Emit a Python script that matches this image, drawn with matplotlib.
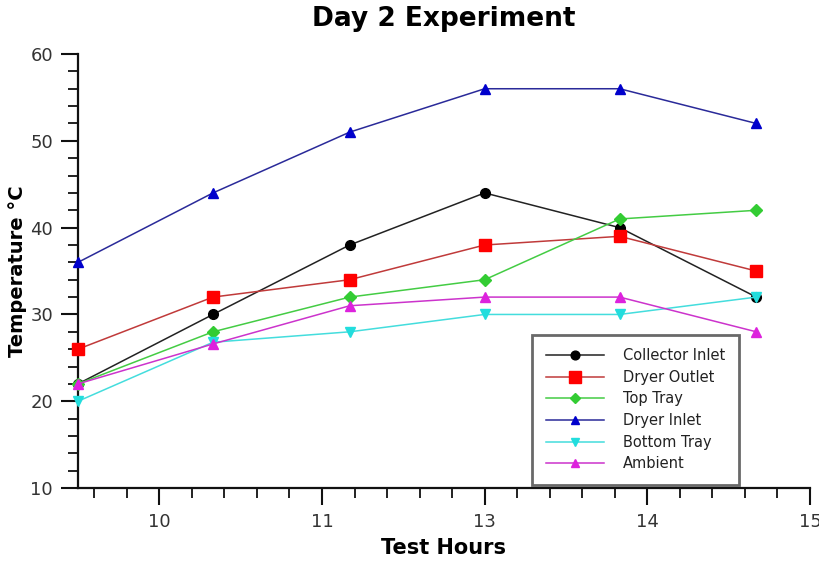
import matplotlib
matplotlib.use("Agg")
import matplotlib.pyplot as plt
from matplotlib.ticker import MultipleLocator, FixedLocator

# Readings taken at 50-minute intervals (decimal hours)
hours = [9.5, 10.33, 11.17, 12.0, 12.83, 13.67]

collector_inlet = [22, 30, 38, 44, 40, 32]
dryer_outlet = [26, 32, 34, 38, 39, 35]
top_tray = [22, 28, 32, 34, 41, 42]
dryer_inlet = [36, 44, 51, 56, 56, 52]
bottom_tray = [20, 26.8, 28, 30, 30, 32]
ambient = [22, 26.6, 31, 32, 32, 28]

tick_positions = [10, 11, 12, 13, 14]
tick_labels = ["10", "11", "13", "14", "15"]

series = [
    ("Collector Inlet", collector_inlet, "black", "o", 7),
    ("Dryer Outlet", dryer_outlet, "#ff0000", "s", 9),
    ("Top Tray", top_tray, "#33cc33", "D", 6),
    ("Dryer Inlet", dryer_inlet, "#0000cc", "^", 7),
    ("Bottom Tray", bottom_tray, "#22dddd", "v", 7),
    ("Ambient", ambient, "#dd22dd", "^", 7),
]
line_colors = {
    "Collector Inlet": "#222222",
    "Dryer Outlet": "#c03a3a",
    "Top Tray": "#44cc44",
    "Dryer Inlet": "#2a2a99",
    "Bottom Tray": "#44dddd",
    "Ambient": "#cc33cc",
}

fig = plt.figure(figsize=(8.19, 5.61), dpi=100)
ax = fig.add_axes([0.0952, 0.130, 0.8938, 0.7737])

for name, vals, col, mk, ms in series:
    ax.plot(hours, vals, color=line_colors[name], lw=1.1, marker=mk,
            markersize=ms, markerfacecolor=col, markeredgecolor=col,
            label=name, clip_on=False, zorder=3)

ax.set_xlim(9.5, 14)
ax.set_ylim(10, 60)
ax.xaxis.set_major_locator(FixedLocator(tick_positions))
ax.set_xticklabels(tick_labels)
ax.xaxis.set_minor_locator(MultipleLocator(0.2))
ax.yaxis.set_major_locator(MultipleLocator(10))
ax.yaxis.set_minor_locator(MultipleLocator(2))

for s in ("top", "right"):
    ax.spines[s].set_visible(False)
for s in ("left", "bottom"):
    ax.spines[s].set_linewidth(1.6)
    ax.spines[s].set_color("#111111")

ax.tick_params(which="major", direction="out", length=12, width=1.5,
               color="#111111", labelsize=13, labelcolor="#333333", pad=6)
ax.tick_params(which="minor", direction="out", length=7, width=1.3,
               color="#111111")

ax.set_xlabel("Test Hours", fontsize=15, fontweight="bold", labelpad=5)
ax.set_ylabel("Temperature °C", fontsize=14, fontweight="bold", labelpad=2)
ax.set_title("Day 2 Experiment", fontsize=19, fontweight="bold", pad=20)

leg = ax.legend(loc="lower right", bbox_to_anchor=(0.903, 0.007),
                borderaxespad=0, fontsize=10.5, frameon=True, fancybox=False,
                edgecolor="#444444", handlelength=4.0, borderpad=0.95,
                labelspacing=0.45, handletextpad=1.3, markerscale=0.9)
leg.get_frame().set_linewidth(2)
for txt in leg.get_texts():
    txt.set_color("#222222")

fig.savefig("out.png", dpi=100)
